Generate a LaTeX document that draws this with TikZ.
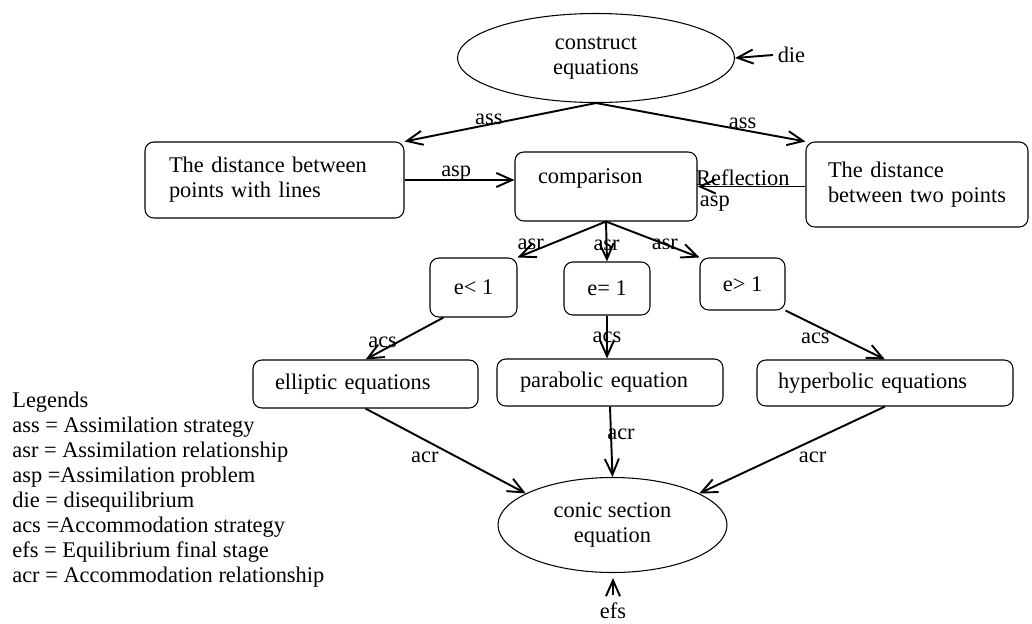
\documentclass[tikz,border=0pt]{standalone}
\usepackage{fontspec}
\setmainfont{Liberation Serif}
\usetikzlibrary{arrows.meta,shapes.geometric}
\begin{document}
\begin{tikzpicture}[every node/.style={font=\fontsize{12.75}{14.2}\selectfont},
  box/.style={draw,rounded corners=5pt,line width=0.6pt,inner xsep=0.2cm,align=left},
  ebox/.style={draw,rounded corners=5pt,line width=0.6pt},
  oval/.style={draw,ellipse,line width=0.6pt,inner sep=0pt,align=center},
  arr/.style={-{Straight Barb[length=9pt,width=8pt]},line width=1.1pt},
  lbl/.style={inner sep=1pt}]
\useasboundingbox (0,0) rectangle (20.64,-12.46);
% nodes
\node[oval,minimum width=5.54cm,minimum height=1.78cm] (construct) at (11.92,-1.16) {construct\\equations};
\node[anchor=west,inner sep=2.5pt] (die) at (15.46,-1.10) {die};
\node[box,minimum width=5.18cm,minimum height=1.52cm,text width=4.22cm] (dist1) at (5.49,-3.60) {The distance between points with lines};
\node[box,minimum width=3.64cm,minimum height=1.38cm,text width=2.72cm,text depth=0.42cm] (comp) at (12.12,-3.73) {comparison};
\node[box,minimum width=4.44cm,minimum height=1.70cm,text width=3.56cm] (dist2) at (18.34,-3.69) {The distance\\between two points};
\node[ebox,minimum width=1.74cm,minimum height=1.18cm] (elt) at (9.47,-5.75) {e< 1};
\node[ebox,minimum width=1.72cm,minimum height=1.06cm] (eeq) at (12.14,-5.77) {e= 1};
\node[ebox,minimum width=1.70cm,minimum height=1.04cm] (egt) at (14.85,-5.68) {e> 1};
\node[box,minimum width=4.50cm,minimum height=0.96cm,text width=3.62cm] (ell) at (7.31,-7.68) {elliptic equations};
\node[box,minimum width=4.52cm,minimum height=0.94cm,text width=3.60cm] (par) at (12.20,-7.65) {parabolic equation};
\node[box,minimum width=5.12cm,minimum height=0.92cm,text width=4.28cm] (hyp) at (17.70,-7.66) {hyperbolic equations};
\node[oval,minimum width=4.58cm,minimum height=1.90cm] (conic) at (12.25,-10.50) {conic section\\equation};
\node[anchor=north,inner ysep=4pt] (efs) at (12.26,-11.90) {efs};
\coordinate (efstip) at (12.26,-11.56);
\node[anchor=north west,inner sep=0pt,align=left] (legend) at (0.24,-7.83) {Legends\\ass = Assimilation strategy\\asr = Assimilation relationship\\asp =Assimilation problem\\die = disequilibrium\\acs =Accommodation strategy\\efs = Equilibrium final stage\\acr = Accommodation relationship};
% connectors
\draw[arr] (die.west) -- (construct.east);
\draw[arr] (construct.south) -- node[lbl,pos=.56,above=-1.5pt] {ass} (dist1.north east);
\draw[arr] (construct.south) -- node[lbl,pos=.7,above=-1pt] {ass} (dist2.north west);
\draw[arr] (dist1.east) -- node[lbl,pos=.47,above=-2pt] {asp} (dist1.east -| comp.west);
\draw[arr] (dist2.west |- comp.east) -- node[lbl,pos=.58,above=-1pt] {Reflection} node[lbl,pos=.84,below=4pt] {asp} (comp.east);
\draw[arr] (comp.south) -- node[lbl,pos=.85,above] {asr} (elt.north east);
\draw[arr] (comp.south) -- node[lbl,pos=.6] {asr} (eeq.north);
\draw[arr] (comp.south) -- node[lbl,pos=.63] {asr} (egt.north west);
\draw[arr] (elt.225) -- node[lbl,pos=.78,above] {acs} (ell.north);
\draw[arr] (eeq.south) -- node[lbl,pos=.5] {acs} (eeq.south |- par.north);
\draw[arr] (egt.south east) -- node[lbl,pos=.3,below=3pt] {acs} (hyp.north);
\draw[arr] (ell.south) -- node[lbl,pos=.37,below=5pt] {acr} (conic.160);
\draw[arr] (par.south) -- node[lbl,pos=.4,xshift=0.2cm] {acr} (conic.north);
\draw[arr] (hyp.south) -- node[lbl,pos=.39,below=5pt] {acr} (conic.20);
\draw[arr] (efs.north) -- (efstip);
\end{tikzpicture}
\end{document}
